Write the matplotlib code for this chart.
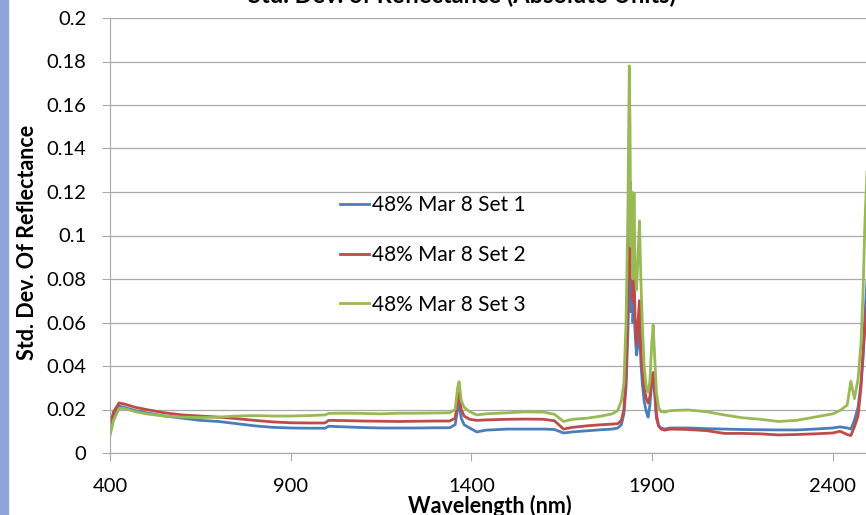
import matplotlib
matplotlib.use("Agg")
import matplotlib.pyplot as plt
from matplotlib.patches import Rectangle

plt.rcParams['font.family'] = ['Lato', 'DejaVu Sans']

# wavelength grid (nm) shared by the three sets
wl = [400, 410, 425, 440, 470, 500, 550, 600, 650, 700, 750, 800, 850, 900, 950,
      995, 1005, 1050, 1100, 1150, 1200, 1250, 1300, 1340, 1355, 1362, 1366, 1372,
      1380, 1395, 1415, 1440, 1500, 1550, 1600, 1630, 1655, 1680, 1720, 1760, 1790,
      1805, 1815, 1822, 1828, 1833, 1837, 1839, 1841, 1844, 1847, 1850, 1853, 1857,
      1861, 1865, 1869, 1873, 1878, 1884, 1889, 1894, 1899, 1903, 1907, 1912, 1918,
      1925, 1935, 1950, 2000, 2050, 2100, 2150, 2200, 2250, 2300, 2350, 2400, 2420,
      2440, 2450, 2460, 2470, 2478, 2484, 2489, 2495, 2500]

set1 = [0.010, 0.017, 0.0215, 0.021, 0.0195, 0.0185, 0.017, 0.016, 0.015, 0.0145,
        0.0135, 0.0125, 0.0118, 0.0115, 0.0114, 0.0114, 0.0123, 0.0120, 0.0117, 0.0115,
        0.0115, 0.0115, 0.0116, 0.0116, 0.013, 0.020, 0.023, 0.016, 0.013, 0.0115,
        0.0097, 0.0105, 0.011, 0.011, 0.011, 0.0108, 0.0092, 0.0097, 0.0102, 0.0107,
        0.011, 0.0115, 0.013, 0.018, 0.030, 0.055, 0.080, 0.090, 0.065, 0.085,
        0.060, 0.070, 0.055, 0.045, 0.050, 0.060, 0.042, 0.032, 0.024, 0.019,
        0.0165, 0.022, 0.032, 0.0367, 0.028, 0.016, 0.0125, 0.0115, 0.011, 0.0115,
        0.0115, 0.0112, 0.0110, 0.0108, 0.0107, 0.0106, 0.0106, 0.0110, 0.0115, 0.012,
        0.0115, 0.011, 0.015, 0.021, 0.032, 0.044, 0.063, 0.080, 0.095]

set2 = [0.013, 0.019, 0.0230, 0.0225, 0.021, 0.020, 0.0185, 0.0175, 0.0170, 0.0165,
        0.0158, 0.0150, 0.0143, 0.0139, 0.0138, 0.0138, 0.0150, 0.0149, 0.0147, 0.0146,
        0.0145, 0.0146, 0.0147, 0.0147, 0.016, 0.024, 0.0276, 0.020, 0.017, 0.0155,
        0.0150, 0.0152, 0.0155, 0.0156, 0.0155, 0.0148, 0.0110, 0.0118, 0.0125, 0.0130,
        0.0133, 0.0135, 0.015, 0.020, 0.035, 0.070, 0.105, 0.125, 0.080, 0.100,
        0.070, 0.085, 0.062, 0.050, 0.060, 0.070, 0.048, 0.038, 0.030, 0.025,
        0.023, 0.026, 0.033, 0.037, 0.030, 0.018, 0.0125, 0.011, 0.0105, 0.011,
        0.0108, 0.0103, 0.0090, 0.0090, 0.0088, 0.0083, 0.0085, 0.0088, 0.0092, 0.010,
        0.0085, 0.008, 0.012, 0.017, 0.030, 0.047, 0.057, 0.070, 0.085]

set3 = [0.008, 0.015, 0.0205, 0.0205, 0.019, 0.018, 0.017, 0.0165, 0.0163, 0.0165,
        0.0170, 0.0172, 0.0170, 0.0170, 0.0172, 0.0175, 0.0182, 0.0183, 0.0182, 0.0180,
        0.0183, 0.0183, 0.0184, 0.0185, 0.020, 0.030, 0.0328, 0.024, 0.021, 0.019,
        0.0175, 0.018, 0.0185, 0.0189, 0.0188, 0.0178, 0.0145, 0.0155, 0.0160, 0.0170,
        0.0180, 0.0195, 0.024, 0.032, 0.060, 0.110, 0.178, 0.150, 0.095, 0.120,
        0.080, 0.1195, 0.085, 0.075, 0.090, 0.1067, 0.080, 0.060, 0.040, 0.030,
        0.028, 0.033, 0.050, 0.0589, 0.045, 0.028, 0.021, 0.019, 0.0188, 0.0195,
        0.0198, 0.019, 0.0175, 0.0162, 0.0155, 0.0145, 0.0150, 0.0165, 0.0180, 0.0195,
        0.0220, 0.033, 0.025, 0.034, 0.050, 0.075, 0.106, 0.130, 0.150]

labels = ["48% Mar 8 Set 1", "48% Mar 8 Set 2", "48% Mar 8 Set 3"]
colors = ["#4A7EBB", "#BE4B48", "#98B954"]
yticks = [0, 0.02, 0.04, 0.06, 0.08, 0.1, 0.12, 0.14, 0.16, 0.18, 0.2]
ytick_labels = ["0", "0.02", "0.04", "0.06", "0.08", "0.1", "0.12", "0.14", "0.16", "0.18", "0.2"]
xticks = [400, 900, 1400, 1900, 2400]

fig = plt.figure(figsize=(8.66, 5.15), dpi=100)
ax = fig.add_axes([110 / 866, 1 - 453 / 515, 1 - 110 / 866, (453 - 18) / 515])

for vals, lab, col in zip([set1, set2, set3], labels, colors):
    ax.plot(wl, vals, color=col, lw=2.0, label=lab, solid_joinstyle='round')

ax.set_xlim(400, 2492)
ax.set_ylim(0, 0.2)
ax.set_yticks(yticks)
ax.set_yticklabels(ytick_labels)
ax.set_xticks(xticks)
ax.yaxis.grid(True, color="#A8A8A8", lw=0.9)
ax.set_axisbelow(True)
for s in ["top", "right"]:
    ax.spines[s].set_visible(False)
ax.spines["left"].set_color("#A8A8A8")
ax.spines["bottom"].set_color("#A8A8A8")
ax.tick_params(axis="y", length=6, color="#A8A8A8", pad=11, labelsize=14.5)
ax.tick_params(axis="x", length=6, color="#A8A8A8", pad=12, labelsize=14.5)

ax.legend(loc="upper left", bbox_to_anchor=(330 / 866, 1 - 185 / 515),
          bbox_transform=fig.transFigure, frameon=False, fontsize=15,
          handlelength=1.35, handletextpad=0.15, labelspacing=1.42, borderpad=0)

fig.text(462 / 866, 1 - 3 / 515, "Std. Dev. of Reflectance (Absolute Units)",
         ha="center", va="baseline", fontsize=17, fontweight="bold")
fig.text(490 / 866, 1 - 506 / 515, "Wavelength (nm)", ha="center", va="center",
         fontsize=15.5, fontweight="bold")
fig.text(28 / 866, 1 - 242 / 515, "Std. Dev. Of Reflectance", ha="center", va="center",
         rotation=90, fontsize=15.5, fontweight="bold")

fig.patches.append(Rectangle((0, 0), 8 / 866, 1, transform=fig.transFigure,
                             color="#8EA4DB", zorder=0))

fig.savefig("out.png", dpi=100)
